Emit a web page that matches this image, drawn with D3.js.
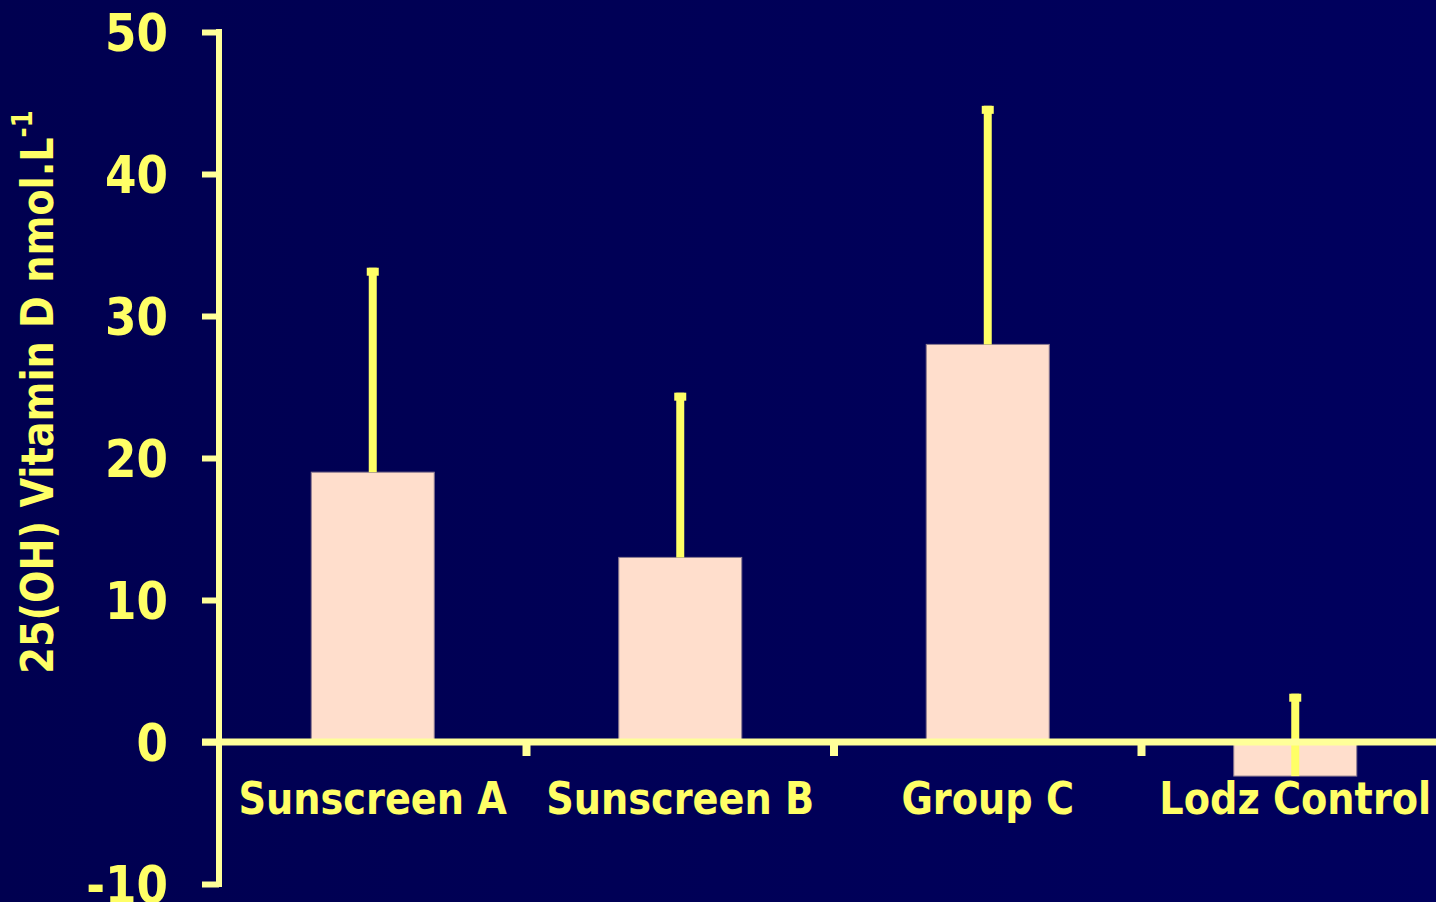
<!DOCTYPE html>
<html>
<head>
<meta charset="utf-8">
<script src="https://cdn.jsdelivr.net/npm/d3@7"></script>
<style>
  html, body { margin: 0; padding: 0; background: #00005a; }
  svg { display: block; }
</style>
</head>
<body>
<div id="vis-holder"></div>
<script>
const categories = ["Sunscreen A", "Sunscreen B", "Group C", "Lodz Control"];
const means = [19.0, 13.0, 28.0, -2.4];
const sds = [14.4, 11.6, 16.8, 5.8];
const yTicks = [-10, 0, 10, 20, 30, 40, 50];

const width = 1436;
const height = 902;
const margin = { top: 32, right: -13, bottom: 18, left: 219 };

const axisColor = "#ffff99";
const textColor = "#ffff66";
const barColor = "#ffdecc";
const font = "'DejaVu Sans', Verdana, sans-serif";
// DejaVu is wider than the original Tahoma, so squeeze text horizontally
const squeeze = 0.87;

const svg = d3.select("#vis-holder")
  .append("svg")
  .attr("width", width)
  .attr("height", height);

const bg = svg.append("defs").append("linearGradient")
  .attr("id", "bg").attr("x1", 0).attr("x2", 1).attr("y1", 0).attr("y2", 0);
bg.append("stop").attr("offset", 0).attr("stop-color", "#000050");
bg.append("stop").attr("offset", 1).attr("stop-color", "#00005e");
svg.append("rect").attr("width", width).attr("height", height).attr("fill", "url(#bg)");

let x = d3.scaleBand()
  .domain(categories)
  .range([margin.left, width - margin.right])
  .paddingInner(0.6)
  .paddingOuter(0.3);

let y = d3.scaleLinear()
  .domain([-10, 50])
  .range([height - margin.bottom, margin.top]);

// bars
svg.selectAll(".bar")
  .data(categories)
  .enter()
  .append("rect")
  .attr("class", "bar")
  .attr("x", d => x(d))
  .attr("width", x.bandwidth())
  .attr("y", (d, i) => y(Math.max(0, means[i])))
  .attr("height", (d, i) => Math.abs(y(means[i]) - y(0)))
  .attr("fill", barColor)
  .attr("stroke", "#8a7a90")
  .attr("stroke-width", 1);

// error bars (upper only)
const err = svg.selectAll(".err")
  .data(categories)
  .enter()
  .append("g")
  .attr("class", "err");

err.append("line")
  .attr("x1", d => x(d) + x.bandwidth() / 2)
  .attr("x2", d => x(d) + x.bandwidth() / 2)
  .attr("y1", (d, i) => y(means[i]))
  .attr("y2", (d, i) => y(means[i] + sds[i]))
  .attr("stroke", textColor)
  .attr("stroke-width", 8);

err.append("rect")
  .attr("x", d => x(d) + x.bandwidth() / 2 - 6)
  .attr("y", (d, i) => y(means[i] + sds[i]))
  .attr("width", 12)
  .attr("height", 8)
  .attr("fill", textColor);

// y axis
const yAxis = svg.append("g")
  .attr("transform", `translate(${margin.left}, 0)`)
  .call(d3.axisLeft(y)
    .tickValues(yTicks)
    .tickSize(17)
    .tickSizeOuter(0)
    .tickFormat(d => String(d)));

yAxis.select(".domain")
  .attr("stroke", axisColor)
  .attr("stroke-width", 6)
  .attr("d", `M0,${y(50) - 3}V${y(-10) + 3}`);
yAxis.selectAll(".tick line")
  .attr("stroke", axisColor)
  .attr("stroke-width", 6);
yAxis.selectAll(".tick text")
  .attr("x", 0)
  .attr("transform", `translate(-51,0) scale(${squeeze},1)`)
  .attr("fill", textColor)
  .attr("font-family", font)
  .attr("font-weight", "bold")
  .attr("font-size", "52px")
  .attr("dy", "0.36em");

// x axis line at zero
svg.append("line")
  .attr("x1", margin.left - 17)
  .attr("x2", width)
  .attr("y1", y(0))
  .attr("y2", y(0))
  .attr("stroke", axisColor)
  .attr("stroke-width", 7);

// x ticks between categories
const boundaries = categories.slice(0, -1).map(d => x(d) + x.bandwidth() / 2 + x.step() / 2);
svg.selectAll(".xtick")
  .data(boundaries)
  .enter()
  .append("line")
  .attr("x1", d => d)
  .attr("x2", d => d)
  .attr("y1", y(0))
  .attr("y2", y(0) + 14)
  .attr("stroke", axisColor)
  .attr("stroke-width", 8);

// category labels
svg.selectAll(".cat")
  .data(categories)
  .enter()
  .append("text")
  .attr("transform", d => `translate(${x(d) + x.bandwidth() / 2}, 814) scale(${squeeze},1)`)
  .attr("text-anchor", "middle")
  .attr("fill", textColor)
  .attr("font-family", font)
  .attr("font-weight", "bold")
  .attr("font-size", "44px")
  .text(d => d);

// y axis title
const title = svg.append("text")
  .attr("transform", `translate(53, 392) rotate(-90) scale(${squeeze},1)`)
  .attr("text-anchor", "middle")
  .attr("fill", textColor)
  .attr("font-family", font)
  .attr("font-weight", "bold")
  .attr("font-size", "44px");
title.append("tspan").text("25(OH) Vitamin D nmol.L");
title.append("tspan")
  .attr("font-size", "28px")
  .attr("dy", "-0.75em")
  .text("-1");
</script>
</body>
</html>
